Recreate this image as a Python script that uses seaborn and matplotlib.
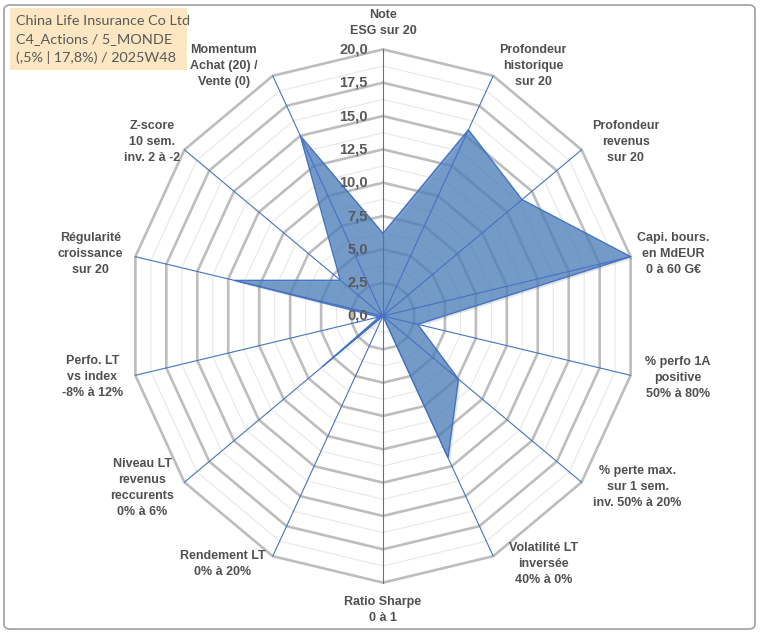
import numpy as np
import matplotlib
matplotlib.use("Agg")
import matplotlib.pyplot as plt
import seaborn as sns
from matplotlib.patches import Polygon, FancyBboxPatch, Rectangle
import matplotlib.patheffects as pe

sns.set_theme(style="white")
plt.rcParams['font.family'] = ['Liberation Sans', 'DejaVu Sans']

# ---------------- data ----------------
categories = [
    "Note\nESG sur 20",
    "Profondeur\nhistorique\nsur 20",
    "Profondeur\nrevenus\nsur 20",
    "Capi. bours.\nen MdEUR\n0 à 60 G€",
    "% perfo 1A\npositive\n50% à 80%",
    "% perte max.\nsur 1 sem.\ninv. 50% à 20%",
    "Volatilité LT\ninversée\n40% à 0%",
    "Ratio Sharpe\n0 à 1",
    "Rendement LT\n0% à 20%",
    "Niveau LT\nrevenus\nreccurents\n0% à 6%",
    "Perfo. LT\nvs index\n-8% à 12%",
    "Régularité\ncroissance\nsur 20",
    "Z-score\n10 sem.\ninv. 2 à -2",
    "Momentum\nAchat (20) /\nVente (0)",
]
values = [6.2, 15.5, 14.0, 20.0, 2.8, 7.6, 11.8, 0.0, 0.0, 6.1, 0.3, 12.0, 4.3, 15.0]
tick_values = [0.0, 2.5, 5.0, 7.5, 10.0, 12.5, 15.0, 17.5, 20.0]
tick_labels = ["0,0", "2,5", "5,0", "7,5", "10,0", "12,5", "15,0", "17,5", "20,0"]
title_lines = ["China Life Insurance Co Ltd", "C4_Actions / 5_MONDE", "(,5% | 17,8%) / 2025W48"]
r_max = 20.0

# ---------------- layout ----------------
W, H, DPI = 760, 633, 100
cx_px, cy_px = 383, 316
sx, sy = 12.7, 13.33   # px per unit
# label offsets in pixels (dx, dy downwards positive)
label_offsets = [(0, -26), (40, -10), (44, -8), (43, -3), (47, 3), (56, 5), (50, 8),
                 (0, 27), (-50, 8), (-42, 6), (-43, 2), (-45, -3), (-32, -8), (-49, -10)]
LBL = ['Liberation Sans', 'DejaVu Sans']

fig = plt.figure(figsize=(W / DPI, H / DPI), dpi=DPI)
ax = fig.add_axes([0, 0, 1, 1])
ax.set_xlim(-cx_px / sx, (W - cx_px) / sx)
ax.set_ylim(-(H - cy_px) / sy, cy_px / sy)
ax.set_aspect('auto')
ax.axis('off')

n = len(categories)
ang = np.arange(n) * 2 * np.pi / n
ux, uy = np.sin(ang), np.cos(ang)

# grid rings
minor = np.arange(1.25, r_max, 2.5)
for r in minor:
    xs = np.append(r * ux, r * ux[0]); ys = np.append(r * uy, r * uy[0])
    ax.plot(xs, ys, color="#E8E8E8", lw=0.8, zorder=1)
for r in tick_values[1:]:
    xs = np.append(r * ux, r * ux[0]); ys = np.append(r * uy, r * uy[0])
    ax.plot(xs, ys, color="#BDBDBD", lw=1.9, zorder=1, solid_joinstyle='miter')

# data polygon
v = np.array(values)
poly = Polygon(np.column_stack([v * ux, v * uy]), closed=True, facecolor="#4F81BD",
               alpha=0.75, edgecolor="none", zorder=2,
               path_effects=[pe.SimplePatchShadow(offset=(1.5, -1.5), alpha=0.12), pe.Normal()])
ax.add_patch(poly)
ax.plot(np.append(v * ux, v[0] * ux[0]), np.append(v * uy, v[0] * uy[0]),
        color="#4472C4", lw=1.0, zorder=4)

# spokes
for i in range(n):
    ax.plot([0, r_max * ux[i]], [0, r_max * uy[i]], color="#4472C4", lw=0.8, zorder=3)

# tick labels
for t, lab in zip(tick_values, tick_labels):
    ax.annotate(lab, xy=(0, t), xytext=(-15 * 0.72, 0), textcoords="offset points",
                ha="right", va="center", fontsize=10.5, fontweight="bold",
                color="#595959", zorder=5, family=LBL)

# category labels
for i, lab in enumerate(categories):
    dx, dy = label_offsets[i]
    ax.annotate(lab, xy=(r_max * ux[i], r_max * uy[i]),
                xytext=(dx * 0.72, -dy * 0.72), textcoords="offset points",
                ha="center", va="center", fontsize=9, fontweight="bold",
                color="#505050", linespacing=1.45, zorder=5, family=LBL)

# title box
fig.patches.append(Rectangle((10 / W, 1 - 70 / H), 177 / W, 62 / H, transform=fig.transFigure,
                             facecolor="#FDE7C3", edgecolor="none", zorder=0))
for k, line in enumerate(title_lines):
    fig.text(16 / W, 1 - (21 + 18.5 * k) / H, line, ha="left", va="center",
             fontsize=10.4, color="#595959", family=["Lato", "DejaVu Sans"])

# outer frame
fig.patches.append(FancyBboxPatch((4 / W, 4 / H), 751 / W, 624 / H,
                                  boxstyle="round,pad=0,rounding_size=0.008",
                                  transform=fig.transFigure, facecolor="none",
                                  edgecolor="#A0A0A0", lw=1.2))

fig.savefig("out.png", dpi=DPI)
